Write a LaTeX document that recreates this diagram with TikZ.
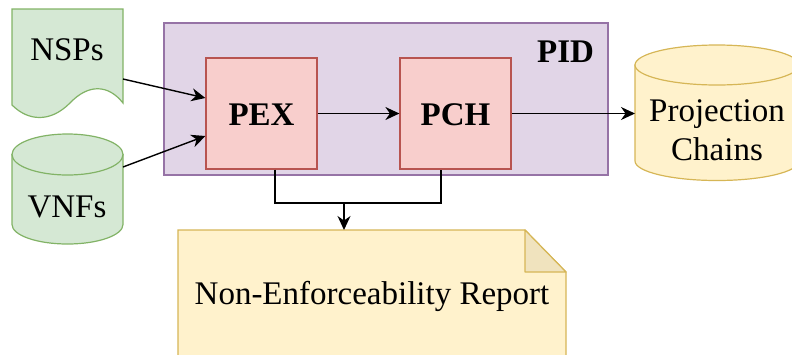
\documentclass[tikz,border=0pt]{standalone}
\usepackage{fontspec}
\setmainfont{Liberation Serif}
\usetikzlibrary{arrows.meta,calc}
\definecolor{grfill}{HTML}{D5E8D4}
\definecolor{grline}{HTML}{82B366}
\definecolor{pufill}{HTML}{E1D5E7}
\definecolor{puline}{HTML}{9673A6}
\definecolor{rdfill}{HTML}{F8CECC}
\definecolor{rdline}{HTML}{B85450}
\definecolor{yefill}{HTML}{FFF2CC}
\definecolor{yeline}{HTML}{D6B656}
\definecolor{yefold}{HTML}{F0E3BE}
\tikzset{
  bigtext/.style={font=\fontsize{33}{40}\selectfont, inner sep=0pt, anchor=base},
  boldtext/.style={bigtext, font=\fontsize{33}{40}\selectfont\bfseries},
  stage/.style={draw=rdline, fill=rdfill, line width=1.2pt, minimum width=111pt,
    minimum height=111pt, inner sep=0pt},
  groupbox/.style={draw=puline, fill=pufill, line width=1.2pt, minimum width=444pt,
    minimum height=152pt, inner sep=0pt},
  greenshape/.style={draw=grline, fill=grfill, line width=1.2pt},
  yellowshape/.style={draw=yeline, fill=yefill, line width=1.2pt},
  link/.style={draw=black, line width=1.4pt},
  arrowlink/.style={link, -{Stealth[length=14pt,width=13pt,inset=4.5pt]}}
}
\begin{document}
\begin{tikzpicture}[x=1pt,y=-1pt]
\useasboundingbox (0,0) rectangle (792,354);

% NSPs document
\path[greenshape] (12,9) -- (123,9) -- (123,103)
  .. controls (108,84) and (88,84) .. (70,103)
  .. controls (50,123) and (28,121) .. (12,105) -- cycle;
\node[bigtext] (nsps) at (67,60) {NSPs};
\coordinate (nspsout) at (123,79);

% VNFs cylinder: body, then the top rim
\path[greenshape] (12,154.5) -- (12,224.5)
  arc[start angle=180,end angle=0,x radius=55.5,y radius=19.5]
  -- (123,154.5) -- cycle;
\path[greenshape] (67.5,154.5) ellipse[x radius=55.5,y radius=20.5];
\node[bigtext] (vnfs) at (67,217) {VNFs};
\coordinate (vnfsout) at (123,167);

% PID group with its two stages
\node[groupbox] (pid) at (386,99) {};
\node[boldtext] (pidlabel) at (565.5,62) {PID};
\node[stage] (pex) at (261.5,113.5) {};
\node[boldtext] at (pex.center) [yshift=-11.5pt] {PEX};
\node[stage] (pch) at (455.5,113.5) {};
\node[boldtext] at (pch.center) [yshift=-11.5pt] {PCH};

% Projection Chains cylinder
\path[yellowshape] (635,65) -- (635,161)
  arc[start angle=180,end angle=0,x radius=82,y radius=19.5]
  -- (799,65) -- cycle;
\path[yellowshape] (717,65) ellipse[x radius=82,y radius=20];
\node[bigtext] (proj) at (717,121) {Projection};
\node[bigtext] (chains) at (717,160) {Chains};
\coordinate (projin) at (635,113.5);

% Non-Enforceability Report note
\path[yellowshape] (178,230) -- (525,230) -- (566,272) -- (566,362) -- (178,362) -- cycle;
\path[draw=yeline, fill=yefold, line width=1.2pt, line join=round]
  (525,230) -- (525,272) -- (566,272) -- cycle;
\node[bigtext] (report) at (372,304) {Non-Enforceability Report};
\coordinate (notetop) at (344,230);
\coordinate (join) at (344,203);

% Connectors
\draw[arrowlink] (nspsout) -- (pex.west |- 0,98);
\draw[arrowlink] (vnfsout) -- (pex.west |- 0,136);
\draw[arrowlink] (pex.east) -- (pch.west);
\draw[arrowlink] (pch.east) -- (projin);
\draw[link] ($(pex.south)+(13.5,0)$) |- (join) -| ($(pch.south)+(-14.5,0)$);
\draw[arrowlink] (join) -- (notetop);
\end{tikzpicture}
\end{document}
